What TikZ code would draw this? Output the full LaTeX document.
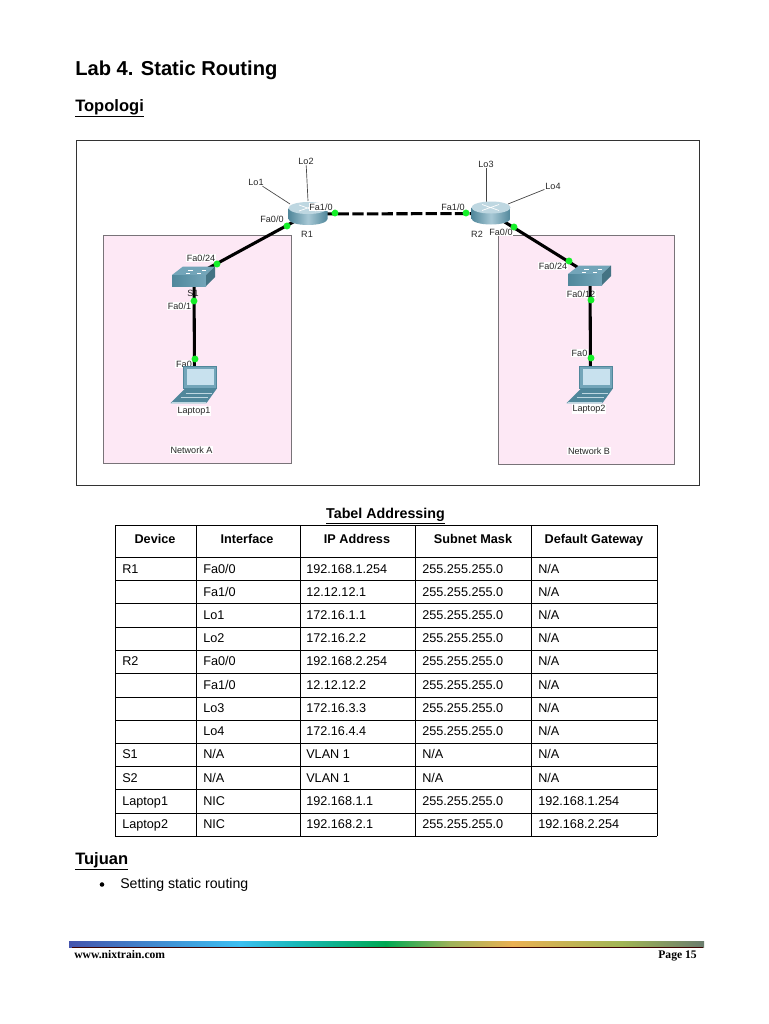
\documentclass[tikz,border=0pt]{standalone}
\usepackage{fontspec}
\setmainfont{Liberation Sans}
\newfontfamily\footfont{Liberation Serif}
\pgfdeclarelayer{pagebg}
\pgfdeclarelayer{labelbg}
\pgfdeclarelayer{wires}
\pgfsetlayers{pagebg,labelbg,wires,main}
\definecolor{pinkbg}{RGB}{253,232,245}
\definecolor{framegray}{RGB}{120,115,120}
\definecolor{devdark}{RGB}{80,135,155}
\definecolor{devmid}{RGB}{115,165,185}
\definecolor{devlight}{RGB}{190,215,225}
\definecolor{screen}{RGB}{200,225,238}
\definecolor{portgreen}{RGB}{20,240,40}
\definecolor{lolink}{RGB}{70,70,70}
\definecolor{barA}{RGB}{69,84,173}
\definecolor{barB}{RGB}{61,191,242}
\definecolor{barC}{RGB}{26,184,184}
\definecolor{barD}{RGB}{0,168,82}
\definecolor{barE}{RGB}{158,178,89}
\definecolor{barF}{RGB}{235,176,82}
\definecolor{barG}{RGB}{161,181,84}
\definecolor{barH}{RGB}{107,125,110}
\tikzset{
 x=0.75pt,y=-0.75pt,
 pagetext/.style={anchor=base west,inner sep=0pt,font=\fontsize{9.5pt}{11pt}\selectfont},
 headtext/.style={anchor=base,inner sep=0pt,font=\fontsize{9.5pt}{11pt}\selectfont\bfseries},
 netlabel/.style={fill=white,inner sep=0.6pt,text=black!85,font=\fontsize{6.8pt}{8pt}\selectfont},
 portdot/.style={circle,fill=portgreen,inner sep=0pt,minimum size=5.2pt},
 centre/.style={inner sep=0pt,minimum size=0pt},
 wire/.style={line width=2.3pt,black},
 loline/.style={line width=0.5pt,lolink},
 pics/routericon/.style={code={
  \path[left color=devdark,right color=devdark,middle color=devlight!70!devmid]
    (-19.5,-6) -- (-19.5,5) arc[start angle=180,end angle=0,x radius=19.5,y radius=6] -- (19.5,-6) -- cycle;
  \path[fill=devlight] (0,-6) ellipse[x radius=19.5,y radius=6];
  \draw[white,line width=0.5pt] (-9,-9) -- (8,-3) (-9,-3) -- (8,-9);
 }},
 pics/switchicon/.style={code={
  \path[fill=devmid] (-22,-1) -- (-11,-9.5) -- (21,-9.5) -- (12,-1) -- cycle;
  \path[left color=devdark,right color=devmid] (-22,-1) rectangle (12,10);
  \path[fill=devdark!85!black] (12,-1) -- (21,-9.5) -- (21,1) -- (12,10) -- cycle;
  \draw[white,line width=0.4pt] (-6,-6) -- (-1,-6) (8,-6) -- (12,-6) (-8,-3) -- (-4,-3) (3,-3) -- (7,-3);
 }},
 pics/laptopicon/.style={code={
  \path[fill=devmid,draw=devdark,line width=0.5pt] (-11,-9) rectangle (22,13);
  \path[fill=screen] (-8,-6.5) rectangle (19,10);
  \path[fill=devdark] (-10,14) -- (22,14) -- (12,28) -- (-24,28) -- cycle;
  \path[fill=devlight] (-22,27) -- (12,27) -- (11,28.5) -- (-24,28.5) -- cycle;
  \draw[devlight,line width=0.4pt] (-9,18) -- (17,18) (-14,22) -- (13,22);
 }},
}
\begin{document}
\begin{tikzpicture}
\useasboundingbox (0,0) rectangle (768,1024);
% headings
\node[anchor=base west,inner sep=0pt,font=\fontsize{15.1pt}{18pt}\selectfont\bfseries] (title) at (75,75) {Lab 4. Static Routing};
\node[anchor=base west,inner sep=0pt,font=\fontsize{12.4pt}{14pt}\selectfont\bfseries] (topo) at (75,111) {\underline{Topologi}};
% diagram frame and network areas
\begin{pgfonlayer}{pagebg}
\fill[white] (0,0) rectangle (768,1024);
\node[draw=black!80,line width=0.6pt,minimum width=467.25pt,minimum height=258.75pt,inner sep=0pt,anchor=north west] (frame) at (76,140) {};
\node[draw=framegray,fill=pinkbg,line width=0.8pt,minimum width=141pt,minimum height=171pt,inner sep=0pt,anchor=north west] (netA) at (103,235) {};
\node[draw=framegray,fill=pinkbg,line width=0.8pt,minimum width=132pt,minimum height=171.75pt,inner sep=0pt,anchor=north west] (netB) at (498,235) {};
\end{pgfonlayer}
% devices
\node[centre] (R1) at (308,214) {};
\node[centre] (R2) at (491,213.5) {};
\node[centre] (S1) at (194,276) {};
\node[centre] (S2) at (590,275) {};
\node[centre] (L1) at (194.5,375) {};
\node[centre] (L2) at (590.5,375) {};
\pic at (R1) {routericon};
\pic at (R2) {routericon};
\pic at (S1) {switchicon};
\pic at (S2) {switchicon};
\pic at (L1) {laptopicon};
\pic at (L2) {laptopicon};
% loopback label nodes
\node[netlabel,fill=none] (lo1) at (256,182) {Lo1};
\node[netlabel,fill=none] (lo2) at (306,161) {Lo2};
\node[netlabel,fill=none] (lo3) at (486,164) {Lo3};
\node[netlabel,fill=none] (lo4) at (553,186) {Lo4};
\coordinate (lo1e) at (290,204);
\coordinate (lo2e) at (308,201);
\coordinate (lo3e) at (486,202);
\coordinate (lo4e) at (508,204);
\begin{pgfonlayer}{wires}
\draw[wire] (R1) -- (S1);
\draw[wire] (S1) -- (L1);
\draw[wire] (R2) -- (S2);
\draw[wire] (S2) -- (L2);
\draw[wire,dash pattern=on 8.5pt off 2.5pt] (R1) -- (R2);
\draw[loline] (lo1) -- (lo1e);
\draw[loline] (lo2) -- (lo2e);
\draw[loline] (lo3) -- (lo3e);
\draw[loline] (lo4) -- (lo4e);
\end{pgfonlayer}
% port dots
\node[portdot] (d1) at (287,226) {};
\node[portdot] (d2) at (335,213) {};
\node[portdot] (d3) at (466,213) {};
\node[portdot] (d4) at (514,227) {};
\node[portdot] (d5) at (217,264) {};
\node[portdot] (d6) at (194,301) {};
\node[portdot] (d7) at (195,359) {};
\node[portdot] (d8) at (569,261) {};
\node[portdot] (d9) at (591,300) {};
\node[portdot] (d10) at (591,358) {};
% label over router
\node[netlabel] (a2) at (321,207) {Fa1/0};
% labels
\begin{pgfonlayer}{labelbg}
\node[netlabel] (a1) at (272,219) {Fa0/0};
\node[netlabel] (a3) at (453,207) {Fa1/0};
\node[netlabel] (a4) at (501,232) {Fa0/0};
\node[netlabel] (a5) at (201,258) {Fa0/24};
\node[netlabel,fill=none] (a6) at (193,293) {S1};
\node[netlabel] (a7) at (179.5,306) {Fa0/1};
\node[netlabel] (a8) at (184,364) {Fa0};
\node[netlabel] (a9) at (553,266) {Fa0/24};
\node[netlabel] (a10) at (581,294) {Fa0/12};
\node[netlabel] (a11) at (579.5,353) {Fa0};
\node[netlabel,fill=none] (r1t) at (307,234) {R1};
\node[netlabel,fill=none] (r2t) at (477,234) {R2};
\node[netlabel] (l1t) at (194,411) {Laptop1};
\node[netlabel] (l2t) at (589,409) {Laptop2};
\node[netlabel] (na) at (191.5,450) {Network A};
\node[netlabel] (nb) at (589,451) {Network B};
\end{pgfonlayer}
% table
\node[anchor=base,inner sep=0pt,font=\fontsize{10.7pt}{12pt}\selectfont\bfseries] (ttl) at (385.5,518) {\underline{Tabel Addressing}};
\foreach \yy in {525,557,580,603.5,627,650,673.5,697,720,743,766.5,789.5,813,836}
  \draw[black,line width=0.6pt] (115,\yy) -- (657,\yy);
\foreach \xx in {115,196,300,415,531,657}
  \draw[black,line width=0.6pt] (\xx,525) -- (\xx,836);
\node[headtext] (h1) at (155,543) {Device};
\node[headtext] (h2) at (247,543) {Interface};
\node[headtext] (h3) at (357,543) {IP Address};
\node[headtext] (h4) at (473,543) {Subnet Mask};
\node[headtext] (h5) at (594,543) {Default Gateway};
\foreach \n/\yy/\ca/\cb/\cc/\cd/\ce in {
 1/573/R1/Fa0\slash 0/192.168.1.254/255.255.255.0/N\slash A,
 2/596/{}/Fa1\slash 0/12.12.12.1/255.255.255.0/N\slash A,
 3/619/{}/Lo1/172.16.1.1/255.255.255.0/N\slash A,
 4/642.5/{}/Lo2/172.16.2.2/255.255.255.0/N\slash A,
 5/665.5/R2/Fa0\slash 0/192.168.2.254/255.255.255.0/N\slash A,
 6/689/{}/Fa1\slash 0/12.12.12.2/255.255.255.0/N\slash A,
 7/712/{}/Lo3/172.16.3.3/255.255.255.0/N\slash A,
 8/735/{}/Lo4/172.16.4.4/255.255.255.0/N\slash A,
 9/758.5/S1/N\slash A/VLAN 1/N\slash A/N\slash A,
 10/782/S2/N\slash A/VLAN 1/N\slash A/N\slash A,
 11/805/Laptop1/NIC/192.168.1.1/255.255.255.0/192.168.1.254,
 12/828.5/Laptop2/NIC/192.168.2.1/255.255.255.0/192.168.2.254}{
  \node[pagetext] (ca\n) at (122,\yy) {\ca};
  \node[pagetext] (cb\n) at (203,\yy) {\cb};
  \node[pagetext] (cc\n) at (306,\yy) {\cc};
  \node[pagetext] (cd\n) at (422,\yy) {\cd};
  \node[pagetext] (ce\n) at (538,\yy) {\ce};
}
% objectives
\node[anchor=base west,inner sep=0pt,font=\fontsize{12.4pt}{14pt}\selectfont\bfseries] (tuj) at (75,864) {\underline{Tujuan}};
\node[circle,fill=black,inner sep=0pt,minimum size=3.4pt] (bul) at (102,884.5) {};
\node[anchor=base west,inner sep=0pt,font=\fontsize{10.6pt}{12pt}\selectfont] (goal) at (120,888) {Setting static routing};
% footer
\foreach \xa/\xb/\ca/\cb in {69/240/barA/barB,239.5/297/barB/barC,296.5/386/barC/barD,385.5/450/barD/barE,449.5/513/barE/barF,512.5/622/barF/barG,621.5/704/barG/barH}
  \path[left color=\ca,right color=\cb] (\xa,941) rectangle (\xb,947);
\draw[black!60!red!60!black,line width=0.5pt] (72,947.3) -- (703,947.3);
\node[anchor=base west,inner sep=0pt,font=\footfont\fontsize{8.7pt}{10pt}\selectfont\bfseries] (web) at (74,958.5) {www.nixtrain.com};
\node[anchor=base east,inner sep=0pt,font=\footfont\fontsize{8.7pt}{10pt}\selectfont\bfseries] (pg) at (697,958.5) {Page 15};
\end{tikzpicture}
\end{document}
